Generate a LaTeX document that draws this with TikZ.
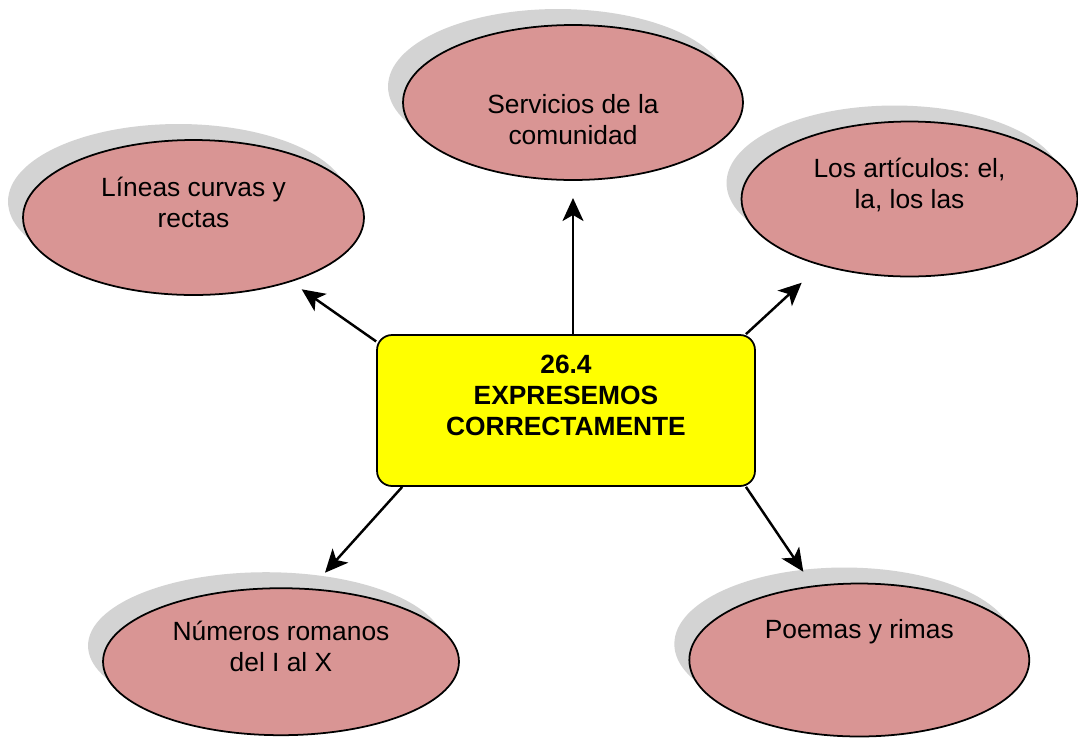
\documentclass[tikz,border=0pt]{standalone}
\usepackage{fontspec}
\setmainfont{Liberation Sans}
\usepackage{tikz}
\usetikzlibrary{shapes.geometric, arrows.meta, shadows}

\definecolor{rosa}{RGB}{217,149,148}
\definecolor{sombra}{RGB}{211,211,211}
\definecolor{amarillo}{RGB}{255,255,0}
\frenchspacing

\begin{document}
\begin{tikzpicture}[
    x=0.02cm, y=-0.02cm,
    font=\fontsize{15}{17.6}\selectfont,
    elipse/.style={ellipse, draw=black, fill=rosa, line width=1pt,
                   align=center, inner sep=0pt,
                   minimum width=6.8cm, minimum height=3.1cm,
                   drop shadow={shadow xshift=-0.3cm, shadow yshift=0.32cm,
                                fill=sombra, opacity=1}},
    tema/.style={rectangle, rounded corners=0.3cm, draw=black, fill=amarillo,
                 line width=1pt, align=center,
                 font=\fontsize{15}{17.6}\selectfont\bfseries,
                 minimum width=7.56cm, minimum height=3.02cm},
    arr/.style={-{Stealth[length=0.46cm, width=0.42cm, inset=0.12cm]},
                line width=1.4pt}
]
\useasboundingbox (0,0) rectangle (1078,738);

% central topic
\node[tema] (centro) at (566,410.5)
    {26.4\\EXPRESEMOS\\CORRECTAMENTE\\\mbox{}};

% subtopics
\node[elipse] (servicios) at (573,102.5)
    {\strut\\Servicios de la\\comunidad};
\node[elipse, minimum width=6.82cm] (lineas) at (193.5,217.5)
    {Líneas curvas y\\rectas\\\mbox{}};
\node[elipse, minimum width=6.72cm] (articulos) at (909.5,199)
    {Los artículos: el,\\la, los las\\\mbox{}};
\node[elipse, minimum width=7.12cm, minimum height=2.94cm] (numeros) at (281,661.7)
    {Números romanos\\del I al X\\\mbox{}};
\node[elipse, minimum height=3.06cm] (poemas) at (859.3,660)
    {Poemas y rimas\\\mbox{}\\\mbox{}};

% arrow tips (they stop short of the ellipses)
\coordinate (pServicios) at (573,198);
\coordinate (pLineas)    at (301.7,289.3);
\coordinate (pArticulos) at (801.7,282.7);
\coordinate (pNumeros)   at (325,572.7);
\coordinate (pPoemas)    at (803.3,571.7);

\draw[arr] (centro.north -| pServicios) -- (pServicios);
\draw[arr] (centro.160) -- (pLineas);
\draw[arr] (centro.23)  -- (pArticulos);
\draw[arr] (centro.205) -- (pNumeros);
\draw[arr] (centro.-23) -- (pPoemas);
\end{tikzpicture}
\end{document}
